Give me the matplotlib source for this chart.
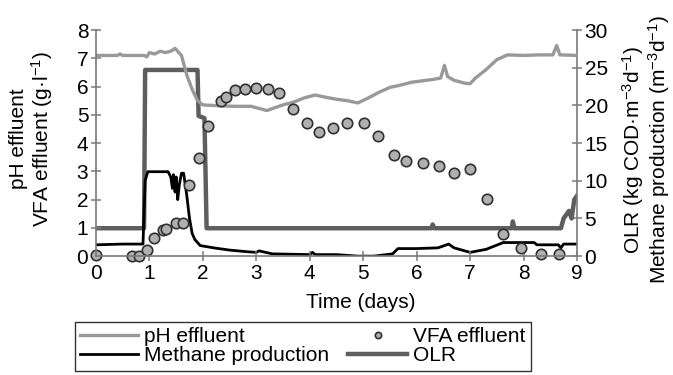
import matplotlib
matplotlib.use('Agg')
import matplotlib.pyplot as plt

plt.rcParams['font.family'] = ['Liberation Sans', 'DejaVu Sans']
plt.rcParams['mathtext.fontset'] = 'custom'
plt.rcParams['mathtext.rm'] = 'Liberation Sans'
plt.rcParams['mathtext.it'] = 'Liberation Sans:italic'

# pH effluent (left axis)
ph_t = [0, 0.4, 0.45, 0.5, 0.9, 0.95, 1.0, 1.1, 1.2, 1.3, 1.4, 1.48, 1.55, 1.6,
        1.7, 1.8, 1.9, 2.0, 2.3, 2.6, 2.9, 3.1, 3.2, 3.3, 3.5, 3.7, 3.9, 4.1,
        4.3, 4.5, 4.7, 4.9, 5.1, 5.3, 5.5, 5.7, 5.9, 6.1, 6.3, 6.45, 6.52, 6.58,
        6.7, 6.9, 7.0, 7.1, 7.3, 7.5, 7.7, 8.0, 8.3, 8.55, 8.62, 8.68, 9.0]
ph_v = [7.1, 7.1, 7.15, 7.1, 7.1, 7.05, 7.2, 7.15, 7.25, 7.2, 7.25, 7.35, 7.2, 7.1,
        6.4, 5.9, 5.5, 5.35, 5.32, 5.3, 5.3, 5.2, 5.15, 5.22, 5.35, 5.45, 5.6, 5.7,
        5.62, 5.55, 5.5, 5.42, 5.6, 5.8, 5.97, 6.05, 6.15, 6.2, 6.25, 6.3, 6.75, 6.35,
        6.22, 6.12, 6.1, 6.3, 6.6, 6.95, 7.12, 7.1, 7.12, 7.12, 7.45, 7.12, 7.1]

# VFA effluent (left axis)
vfa_t = [0.0, 0.67, 0.81, 0.96, 1.09, 1.25, 1.31, 1.50, 1.62, 1.75, 1.92, 2.09,
         2.34, 2.43, 2.61, 2.79, 3.0, 3.21, 3.43, 3.68, 3.94, 4.17, 4.43, 4.70,
         5.02, 5.28, 5.58, 5.81, 6.11, 6.42, 6.70, 7.0, 7.31, 7.62, 7.96, 8.32, 8.67]
vfa_v = [0.05, 0.0, 0.0, 0.21, 0.65, 0.92, 0.97, 1.18, 1.18, 2.51, 3.48, 4.61,
         5.49, 5.63, 5.88, 5.92, 5.96, 5.92, 5.78, 5.20, 4.72, 4.39, 4.54, 4.72,
         4.72, 4.25, 3.56, 3.37, 3.28, 3.20, 2.95, 3.09, 2.03, 0.77, 0.29, 0.09, 0.06]

# OLR (right axis)
olr_t = [0, 0.9, 0.92, 1.9, 1.92, 2.03, 2.07, 6.28, 6.3, 6.33, 7.78, 7.8, 7.83,
         8.7, 8.75, 8.8, 8.85, 8.9, 8.95, 9.0]
olr_v = [3.7, 3.7, 24.7, 24.7, 18.6, 18.3, 3.7, 3.7, 4.2, 3.7, 3.7, 4.6, 3.7,
         3.7, 5.0, 5.5, 6.0, 5.0, 7.5, 8.0]

# Methane production (right axis)
ch4_t = [0, 0.5, 0.88, 0.92, 0.97, 1.35, 1.4, 1.43, 1.45, 1.48, 1.5, 1.53, 1.56,
         1.6, 1.64, 1.7, 1.75, 1.8, 1.85, 1.95, 2.2, 2.5, 2.8, 3.0, 3.05, 3.3, 4.0,
         4.05, 4.1, 4.5, 4.9, 5.2, 5.55, 5.65, 6.0, 6.4, 6.6, 6.7, 7.0, 7.3, 7.55,
         7.62, 8.2, 8.25, 8.65, 8.7, 8.75, 9.0]
ch4_v = [1.5, 1.6, 1.6, 10.0, 11.2, 11.2, 10.5, 9.0, 10.8, 8.5, 10.5, 7.5, 9.5,
         11.0, 11.0, 8.0, 5.0, 3.0, 2.2, 1.4, 1.1, 0.8, 0.6, 0.5, 0.7, 0.3, 0.2,
         0.5, 0.2, 0.2, 0.0, 0.0, 0.3, 1.0, 1.0, 1.1, 1.6, 1.1, 0.5, 0.9, 1.6,
         1.8, 1.8, 1.5, 1.5, 1.1, 1.6, 1.6]

fs = 15
fig = plt.figure(figsize=(6.73, 3.75), dpi=100)
ax = fig.add_axes([0.1426, 0.317, 0.7147, 0.603])
ax2 = ax.twinx()

spine_c = '#7a7a7a'
for a in (ax, ax2):
    a.spines['top'].set_visible(False)
    for s in ('left', 'right', 'bottom'):
        a.spines[s].set_color(spine_c)
        a.spines[s].set_linewidth(1.2)
    a.tick_params(direction='inout', length=7, width=1.1, color=spine_c,
                  labelsize=fs, labelcolor='black', pad=2)
ax.spines['right'].set_visible(False)
ax2.spines['left'].set_visible(False)
ax2.spines['bottom'].set_visible(False)

l_olr, = ax2.plot(olr_t, olr_v, color='#5e5e5e', lw=3.2, label='OLR')
l_ch4, = ax2.plot(ch4_t, ch4_v, color='black', lw=2.0, label='Methane production')
l_ph, = ax.plot(ph_t, ph_v, color='#999999', lw=2.4, label='pH effluent')
ax.set_zorder(ax2.get_zorder() + 1)
ax.patch.set_visible(False)
l_vfa, = ax.plot(vfa_t, vfa_v, 'o', ms=7.5, mfc='#b0b0b0', mec='#303030',
                 mew=1.2, label='VFA effluent', clip_on=False)

ax.set_xlim(0, 9)
ax.set_ylim(0, 8)
ax2.set_ylim(0, 30)
ax.set_xticks(range(10))
ax.set_yticks(range(9))
ax2.set_yticks(range(0, 31, 5))

ax.set_xlabel('Time (days)', fontsize=fs)
ax.xaxis.set_label_coords(0.55, -0.165)
fig.text(0.047, 0.63, 'pH effluent\nVFA effluent (g·l$^{-1}$)', rotation=90,
         ha='center', va='center', fontsize=fs, linespacing=1.05)
fig.text(0.96, 0.60, 'OLR (kg COD·m$^{-3}$d$^{-1}$)\nMethane production (m$^{-3}$d$^{-1}$)',
         rotation=90, ha='center', va='center', fontsize=fs, linespacing=1.05)

leg = fig.legend([l_ph, l_ch4, l_vfa, l_olr],
                 ['pH effluent', 'Methane production', 'VFA effluent', 'OLR'],
                 ncol=2, loc='upper left', bbox_to_anchor=(0.111, 0.141),
                 fontsize=fs, frameon=True, fancybox=False,
                 edgecolor='black', handlelength=2.8, handletextpad=0.3,
                 borderpad=0.25, labelspacing=0.0, borderaxespad=0,
                 markerscale=0.6, columnspacing=0.9)
leg.get_frame().set_linewidth(1.0)

fig.savefig('out.png', dpi=100)
